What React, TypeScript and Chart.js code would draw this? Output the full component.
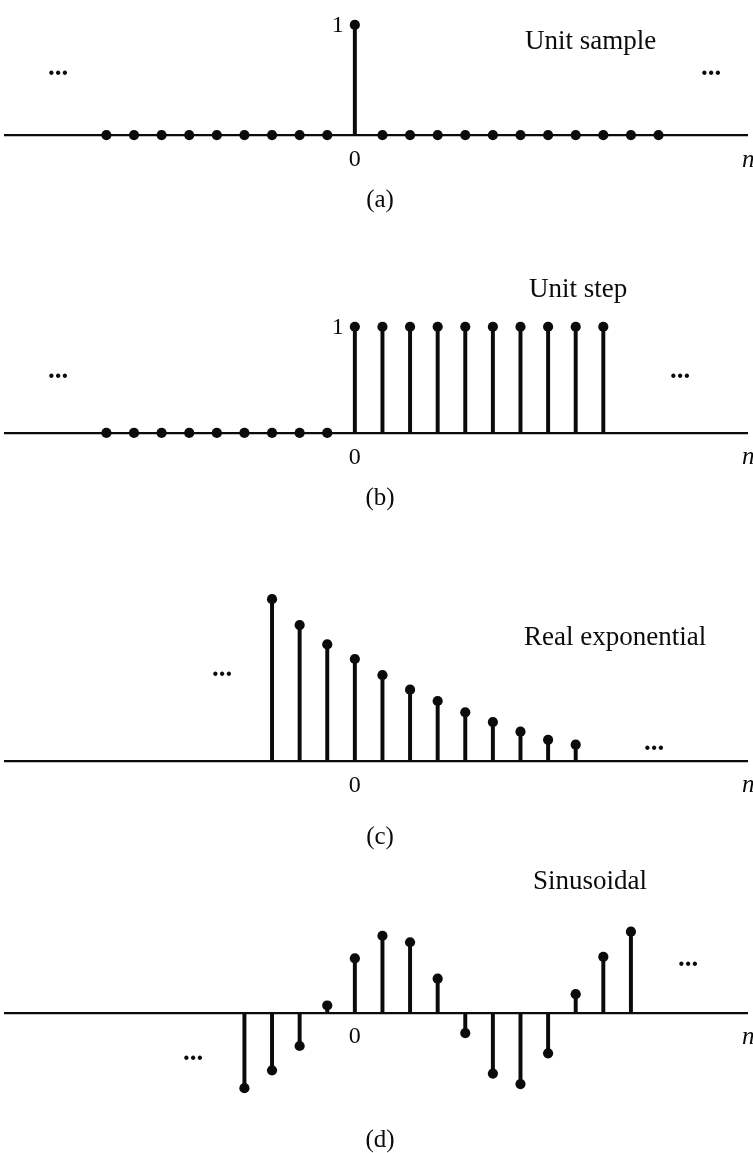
import React, { useEffect, useRef } from 'react';
import { Chart, registerables } from 'chart.js';

Chart.register(...registerables);

// ---------------- data ----------------
// (a) Unit sample
const unitSampleN = [-9, -8, -7, -6, -5, -4, -3, -2, -1, 0, 1, 2, 3, 4, 5, 6, 7, 8, 9, 10, 11];
const unitSampleValues = [0, 0, 0, 0, 0, 0, 0, 0, 0, 1, 0, 0, 0, 0, 0, 0, 0, 0, 0, 0, 0];

// (b) Unit step
const unitStepN = [-9, -8, -7, -6, -5, -4, -3, -2, -1, 0, 1, 2, 3, 4, 5, 6, 7, 8, 9];
const unitStepValues = [0, 0, 0, 0, 0, 0, 0, 0, 0, 1, 1, 1, 1, 1, 1, 1, 1, 1, 1];

// (c) Real exponential
const realExpN = [-3, -2, -1, 0, 1, 2, 3, 4, 5, 6, 7, 8];
const realExpValues = [1.0, 0.84, 0.72, 0.63, 0.53, 0.44, 0.37, 0.3, 0.24, 0.18, 0.13, 0.1];

// (d) Sinusoidal
const sinusoidN = [-4, -3, -2, -1, 0, 1, 2, 3, 4, 5, 6, 7, 8, 9, 10];
const sinusoidValues = [-0.93, -0.71, -0.41, 0.09, 0.67, 0.95, 0.87, 0.42, -0.25, -0.75, -0.88, -0.5, 0.23, 0.69, 1.0];

// tick labels / texts
const xTickValues = [0];
const xTickLabels = ['0'];
const unitTickLabel = '1';
const axisVariable = 'n';
const ellipsis = '...';
const panelTitles = ['Unit sample', 'Unit step', 'Real exponential', 'Sinusoidal'];
const panelCaptions = ['(a)', '(b)', '(c)', '(d)'];

// ---------------- layout / style ----------------
const W = 753;
const H = 1153;
const INK = '#0b0b0b';
const SERIF = '"Liberation Serif", "Times New Roman", Times, serif';
const X_ZERO_PX = 357.2;
const X_STEP_PX = 27.8;
const AXIS_LEFT_PX = 5;
const X_MIN = -(X_ZERO_PX - AXIS_LEFT_PX) / X_STEP_PX;
const X_MAX = (W - X_ZERO_PX) / X_STEP_PX;

type Pt = { x: number; y: number };
type PanelSpec = {
  n: number[];
  v: number[];
  title: string;
  caption: string;
  top: number;
  height: number;
  axisPx: number;
  unitPx: number;
  showOne: boolean;
  titleX: number;
  titleBase: number;
  dotsL: Pt;
  dotsR: Pt;
  captionY: number;
};

const panels: PanelSpec[] = [
  {
    n: unitSampleN, v: unitSampleValues, title: panelTitles[0], caption: panelCaptions[0],
    top: 0, height: 230, axisPx: 136, unitPx: 115.3, showOne: true,
    titleX: 525, titleBase: 49, dotsL: { x: 58, y: 72 }, dotsR: { x: 711, y: 72 }, captionY: 200,
  },
  {
    n: unitStepN, v: unitStepValues, title: panelTitles[1], caption: panelCaptions[1],
    top: 230, height: 290, axisPx: 205, unitPx: 110, showOne: true,
    titleX: 529, titleBase: 67, dotsL: { x: 58, y: 145 }, dotsR: { x: 680, y: 145 }, captionY: 268,
  },
  {
    n: realExpN, v: realExpValues, title: panelTitles[2], caption: panelCaptions[2],
    top: 520, height: 340, axisPx: 243, unitPx: 166.6, showOne: false,
    titleX: 524, titleBase: 125, dotsL: { x: 222, y: 153 }, dotsR: { x: 654, y: 227 }, captionY: 317,
  },
  {
    n: sinusoidN, v: sinusoidValues, title: panelTitles[3], caption: panelCaptions[3],
    top: 860, height: 293, axisPx: 153, unitPx: 84, showOne: false,
    titleX: 533, titleBase: 29, dotsL: { x: 193, y: 197 }, dotsR: { x: 688, y: 103 }, captionY: 280,
  },
];

function StemPanel({ spec }: { spec: PanelSpec }) {
  const ref = useRef<HTMLCanvasElement | null>(null);

  useEffect(() => {
    const canvas = ref.current;
    if (!canvas) return;
    const pts = spec.n.map((x, i) => ({ x, y: spec.v[i] }));
    const yMax = spec.axisPx / spec.unitPx;
    const yMin = -(spec.height - spec.axisPx) / spec.unitPx;

    const annotate = {
      id: 'annotate',
      afterDraw(chart: any) {
        const { ctx } = chart;
        const xs = chart.scales.x;
        const ys = chart.scales.y;
        const axisY = ys.getPixelForValue(0);
        ctx.save();
        ctx.fillStyle = INK;

        // title
        ctx.font = `27px ${SERIF}`;
        ctx.textAlign = 'left';
        ctx.textBaseline = 'alphabetic';
        ctx.fillText(spec.title, spec.titleX, spec.titleBase);

        // unit value label
        if (spec.showOne) {
          ctx.font = `24px ${SERIF}`;
          ctx.textAlign = 'center';
          ctx.textBaseline = 'middle';
          ctx.fillText(unitTickLabel, xs.getPixelForValue(0) - 17, ys.getPixelForValue(1) + 1);
        }

        // ellipses
        ctx.font = `bold 27px ${SERIF}`;
        ctx.textAlign = 'center';
        ctx.textBaseline = 'alphabetic';
        ctx.fillText(ellipsis, spec.dotsL.x, spec.dotsL.y + 2.5);
        ctx.fillText(ellipsis, spec.dotsR.x, spec.dotsR.y + 2.5);

        // axis variable
        ctx.font = `italic 25px ${SERIF}`;
        ctx.textAlign = 'left';
        ctx.textBaseline = 'middle';
        ctx.fillText(axisVariable, 742, axisY + 25);

        // caption
        ctx.font = `25px ${SERIF}`;
        ctx.textAlign = 'center';
        ctx.textBaseline = 'middle';
        ctx.fillText(spec.caption, 380, spec.captionY);

        ctx.restore();
      },
    };

    const chart = new Chart(canvas, {
      type: 'bar',
      data: {
        datasets: [
          {
            type: 'scatter',
            data: pts,
            pointRadius: 5.1,
            pointHoverRadius: 5.1,
            pointStyle: 'circle',
            backgroundColor: INK,
            borderColor: INK,
            borderWidth: 0,
            order: 0,
          } as any,
          {
            type: 'bar',
            data: pts,
            barThickness: 3.3,
            backgroundColor: INK,
            borderWidth: 0,
            order: 1,
          } as any,
        ],
      },
      options: {
        animation: false,
        responsive: false,
        maintainAspectRatio: false,
        events: [],
        layout: { padding: { left: AXIS_LEFT_PX, right: 0, top: 0, bottom: 0 } },
        plugins: {
          legend: { display: false },
          tooltip: { enabled: false },
          title: { display: false },
        },
        scales: {
          x: {
            type: 'linear',
            min: X_MIN,
            max: X_MAX,
            offset: false,
            position: { y: 0 } as any,
            grid: { display: false, drawTicks: false, offset: false },
            border: { display: true, color: INK, width: 2.2 },
            afterBuildTicks: (scale: any) => {
              scale.ticks = xTickValues.map((value) => ({ value }));
            },
            ticks: {
              autoSkip: false,
              maxRotation: 0,
              padding: 10,
              color: INK,
              font: { family: SERIF, size: 24 },
              callback: (value: any) => {
                const i = xTickValues.indexOf(Number(value));
                return i >= 0 ? xTickLabels[i] : '';
              },
            },
          } as any,
          y: {
            type: 'linear',
            display: false,
            min: yMin,
            max: yMax,
          },
        },
      },
      plugins: [annotate],
    });

    return () => chart.destroy();
  }, [spec]);

  return (
    <canvas
      ref={ref}
      width={W}
      height={spec.height}
      style={{ position: 'absolute', left: 0, top: spec.top, width: W, height: spec.height, display: 'block' }}
    />
  );
}

export default function App() {
  return (
    <div style={{ position: 'absolute', left: 0, top: 0, width: W, height: H, background: '#ffffff', overflow: 'hidden' }}>
      {panels.map((p) => (
        <StemPanel key={p.caption} spec={p} />
      ))}
    </div>
  );
}
